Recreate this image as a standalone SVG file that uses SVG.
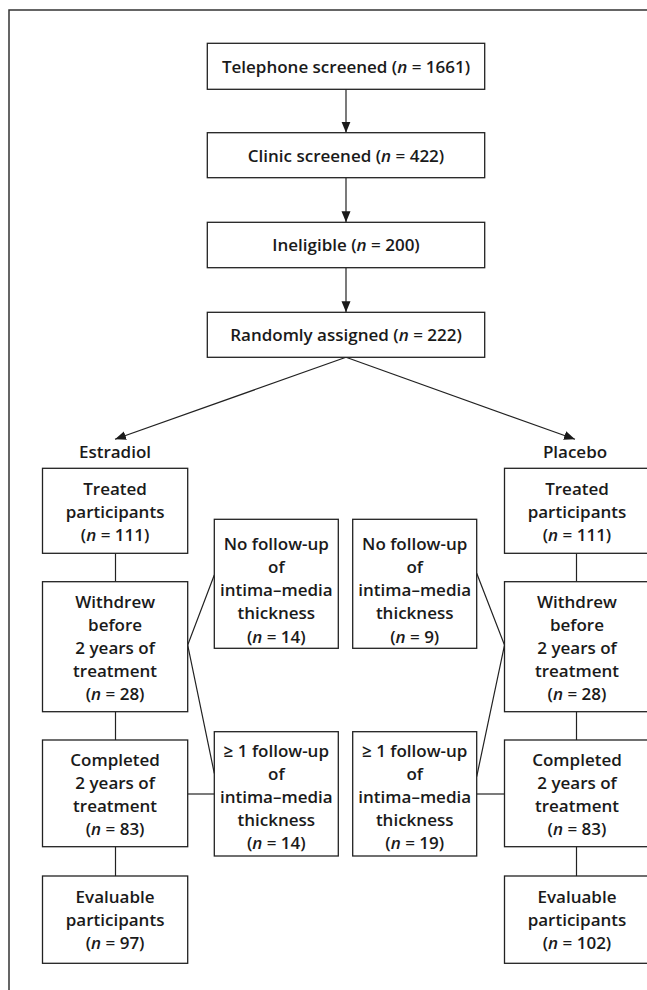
<svg xmlns="http://www.w3.org/2000/svg" width="647" height="990" viewBox="0 0 647 990">
<defs>
<style>
.box{fill:#fff;stroke:#222;stroke-width:1.3}
.ln{fill:none;stroke:#222;stroke-width:1.2}
.t{font-family:"Open Sans","Noto Sans","Liberation Sans",sans-serif;font-size:17px;font-weight:600;fill:#1a1a1a;text-anchor:middle}
.i{font-style:italic}
</style>
<marker id="ah" markerUnits="userSpaceOnUse" markerWidth="12" markerHeight="10" refX="11" refY="4.5" orient="auto">
<path d="M0,0 L11,4.5 L0,9 Z" fill="#1a1a1a"/>
</marker>
</defs>
<rect width="647" height="990" fill="#fff"/>
<path d="M9,990 L9,10 L647,10" fill="none" stroke="#333" stroke-width="1.5"/>

<g id="connectors">
<line class="ln" x1="346" y1="89.3" x2="346" y2="132.7" marker-end="url(#ah)"/>
<line class="ln" x1="346" y1="177.7" x2="346" y2="222.3" marker-end="url(#ah)"/>
<line class="ln" x1="346" y1="267.7" x2="346" y2="312.3" marker-end="url(#ah)"/>
<line class="ln" x1="346" y1="357.3" x2="115" y2="439.3" marker-end="url(#ah)"/>
<line class="ln" x1="346" y1="357.3" x2="575" y2="439.3" marker-end="url(#ah)"/>
<line class="ln" x1="115.5" y1="553.3" x2="115.5" y2="581.7"/>
<line class="ln" x1="115.5" y1="711.7" x2="115.5" y2="740"/>
<line class="ln" x1="115.5" y1="846.7" x2="115.5" y2="876"/>
<line class="ln" x1="576.5" y1="553.3" x2="576.5" y2="581.7"/>
<line class="ln" x1="576.5" y1="711.7" x2="576.5" y2="740"/>
<line class="ln" x1="576.5" y1="846.7" x2="576.5" y2="876"/>
<polyline class="ln" points="214.3,575 187.7,645 214.3,773.3"/>
<line class="ln" x1="187.7" y1="794" x2="214.3" y2="794"/>
<polyline class="ln" points="476.7,573.3 504.5,645 476.7,776.7"/>
<line class="ln" x1="476.7" y1="794" x2="504.5" y2="794"/>
</g>

<g id="telephone">
<rect class="box" x="207.3" y="43.3" width="277.4" height="46"/>
<text class="t" x="346" y="72.5">Telephone screened (<tspan class="i">n</tspan> = 1661)</text>
</g>
<g id="clinic">
<rect class="box" x="207.3" y="132.7" width="277.4" height="45"/>
<text class="t" x="346" y="161.5">Clinic screened (<tspan class="i">n</tspan> = 422)</text>
</g>
<g id="ineligible">
<rect class="box" x="207.3" y="222.3" width="277.4" height="45.4"/>
<text class="t" x="346" y="251.3">Ineligible (<tspan class="i">n</tspan> = 200)</text>
</g>
<g id="randomly">
<rect class="box" x="207.3" y="312.3" width="277.4" height="45"/>
<text class="t" x="346" y="341">Randomly assigned (<tspan class="i">n</tspan> = 222)</text>
</g>

<g id="estradiol-label">
<text class="t" x="115" y="457.5">Estradiol</text>
</g>
<g id="placebo-label">
<text class="t" x="575" y="457.5">Placebo</text>
</g>

<g id="e-treated">
<rect class="box" x="42.5" y="468.3" width="145.2" height="85"/>
<text class="t" x="115.1" y="494.8">Treated</text>
<text class="t" x="115.1" y="518.1">participants</text>
<text class="t" x="115.1" y="541.4">(<tspan class="i">n</tspan> = 111)</text>
</g>
<g id="e-withdrew">
<rect class="box" x="42.5" y="581.7" width="145.2" height="130"/>
<text class="t" x="115.1" y="607.5">Withdrew</text>
<text class="t" x="115.1" y="630.7">before</text>
<text class="t" x="115.1" y="653.9">2 years of</text>
<text class="t" x="115.1" y="677.1">treatment</text>
<text class="t" x="115.1" y="700.3">(<tspan class="i">n</tspan> = 28)</text>
</g>
<g id="e-completed">
<rect class="box" x="42.5" y="740" width="145.2" height="106.7"/>
<text class="t" x="115.1" y="766">Completed</text>
<text class="t" x="115.1" y="789.1">2 years of</text>
<text class="t" x="115.1" y="812.2">treatment</text>
<text class="t" x="115.1" y="835.3">(<tspan class="i">n</tspan> = 83)</text>
</g>
<g id="e-evaluable">
<rect class="box" x="42.5" y="876" width="145.2" height="87.3"/>
<text class="t" x="115.1" y="902.7">Evaluable</text>
<text class="t" x="115.1" y="925.8">participants</text>
<text class="t" x="115.1" y="948.9">(<tspan class="i">n</tspan> = 97)</text>
</g>

<g id="e-nofollow">
<rect class="box" x="214.3" y="519.3" width="124" height="129"/>
<text class="t" x="276.3" y="549.8">No follow-up</text>
<text class="t" x="276.3" y="573">of</text>
<text class="t" x="276.3" y="596.2">intima–media</text>
<text class="t" x="276.3" y="619.4">thickness</text>
<text class="t" x="276.3" y="642.6">(<tspan class="i">n</tspan> = 14)</text>
</g>
<g id="e-followup">
<rect class="box" x="214.3" y="731.7" width="124" height="124.3"/>
<text class="t" x="276.3" y="756.5">≥ 1 follow-up</text>
<text class="t" x="276.3" y="779.5">of</text>
<text class="t" x="276.3" y="802.5">intima–media</text>
<text class="t" x="276.3" y="825.5">thickness</text>
<text class="t" x="276.3" y="848.5">(<tspan class="i">n</tspan> = 14)</text>
</g>
<g id="p-nofollow">
<rect class="box" x="352.7" y="519.3" width="124" height="129"/>
<text class="t" x="414.7" y="549.8">No follow-up</text>
<text class="t" x="414.7" y="573">of</text>
<text class="t" x="414.7" y="596.2">intima–media</text>
<text class="t" x="414.7" y="619.4">thickness</text>
<text class="t" x="414.7" y="642.6">(<tspan class="i">n</tspan> = 9)</text>
</g>
<g id="p-followup">
<rect class="box" x="352.7" y="731.7" width="124" height="124.3"/>
<text class="t" x="414.7" y="756.5">≥ 1 follow-up</text>
<text class="t" x="414.7" y="779.5">of</text>
<text class="t" x="414.7" y="802.5">intima–media</text>
<text class="t" x="414.7" y="825.5">thickness</text>
<text class="t" x="414.7" y="848.5">(<tspan class="i">n</tspan> = 19)</text>
</g>

<g id="p-treated">
<rect class="box" x="504.5" y="468.3" width="145.2" height="85"/>
<text class="t" x="577" y="494.8">Treated</text>
<text class="t" x="577" y="518.1">participants</text>
<text class="t" x="577" y="541.4">(<tspan class="i">n</tspan> = 111)</text>
</g>
<g id="p-withdrew">
<rect class="box" x="504.5" y="581.7" width="145.2" height="130"/>
<text class="t" x="577" y="607.5">Withdrew</text>
<text class="t" x="577" y="630.7">before</text>
<text class="t" x="577" y="653.9">2 years of</text>
<text class="t" x="577" y="677.1">treatment</text>
<text class="t" x="577" y="700.3">(<tspan class="i">n</tspan> = 28)</text>
</g>
<g id="p-completed">
<rect class="box" x="504.5" y="740" width="145.2" height="106.7"/>
<text class="t" x="577" y="766">Completed</text>
<text class="t" x="577" y="789.1">2 years of</text>
<text class="t" x="577" y="812.2">treatment</text>
<text class="t" x="577" y="835.3">(<tspan class="i">n</tspan> = 83)</text>
</g>
<g id="p-evaluable">
<rect class="box" x="504.5" y="876" width="145.2" height="87.3"/>
<text class="t" x="577" y="902.7">Evaluable</text>
<text class="t" x="577" y="925.8">participants</text>
<text class="t" x="577" y="948.9">(<tspan class="i">n</tspan> = 102)</text>
</g>
</svg>
